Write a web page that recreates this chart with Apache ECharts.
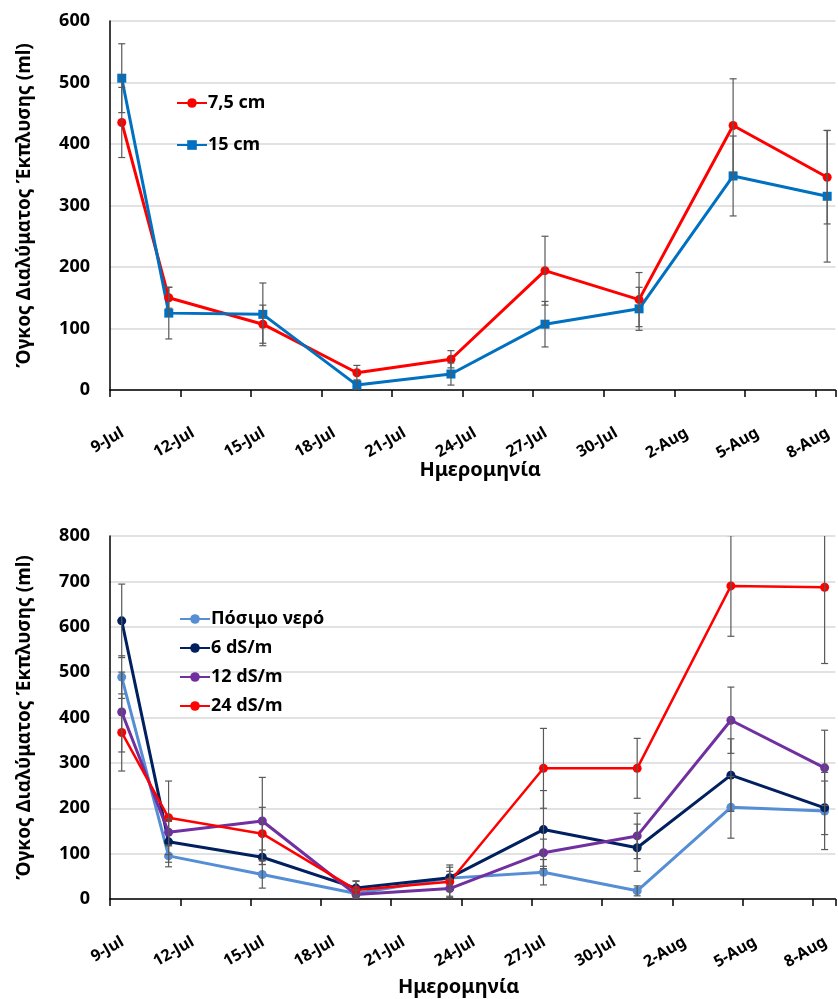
<!DOCTYPE html>
<html>
<head>
<meta charset="utf-8">
<script src="https://cdn.jsdelivr.net/npm/echarts@6/dist/echarts.min.js"></script>
<style>html,body{margin:0;padding:0;background:#fff}#c{width:838px;height:999px}</style>
</head>
<body>
<div id="c"></div>
<script>
// ---- data ----
const baseDate = '2019-07-09';
const dates = ['2019-07-09','2019-07-11','2019-07-15','2019-07-19','2019-07-23','2019-07-27','2019-07-31','2019-08-04','2019-08-08'];
const months = ['Jan','Feb','Mar','Apr','May','Jun','Jul','Aug','Sep','Oct','Nov','Dec'];

// top chart (depth)
const topNames = ['7,5 cm', '15 cm'];
const depth75 = [435, 150, 107, 28, 50, 194, 147, 430, 346];
const depth75Err = [57, 17, 31, 12, 14, 56, 44, 76, 76];
const depth15 = [507, 125, 123, 8, 26, 107, 132, 348, 315];
const depth15Err = [56, 42, 51, 8, 18, 37, 35, 65, 107];

// bottom chart (salinity)
const botNames = ['Πόσιμο νερό', '6 dS/m', '12 dS/m', '24 dS/m'];
const water = [489, 95, 54, 12, 46, 59, 18, 202, 194];
const waterErr = [47, 24, 30, 8, 15, 28, 11, 68, 85];
const ds6 = [613, 126, 92, 24, 47, 153, 113, 273, 201];
const ds6Err = [81, 45, 16, 15, 28, 86, 52, 80, 59];
const ds12 = [412, 147, 172, 10, 23, 102, 139, 394, 289];
const ds12Err = [88, 30, 96, 10, 20, 30, 50, 73, 83];
const ds24 = [367, 179, 144, 20, 38, 288, 288, 690, 687];
const ds24Err = [85, 81, 58, 20, 32, 88, 66, 111, 168];

const yTitle = 'Όγκος Διαλύματος Έκπλυσης (ml)';
const xTitle = 'Ημερομηνία';

// ---- helpers ----
const DAY = 86400000;
const base = Date.parse(baseDate + 'T00:00:00Z');
// Excel date axis places each daily point at the middle of its day
const xs = dates.map(d => (Date.parse(d + 'T12:00:00Z') - base) / DAY);
function dayLabel(v) {
  if (Math.abs(v % 3) > 1e-6) return '';
  const d = new Date(base + v * DAY);
  return '{t|' + d.getUTCDate() + '-' + months[d.getUTCMonth()] + '}';
}
const FONT = 'Noto Sans';

function lineSeries(name, vals, color, symbol, gi, width) {
  return {
    name, type: 'line', xAxisIndex: gi, yAxisIndex: gi,
    data: xs.map((x, i) => [x, vals[i]]),
    symbol, symbolSize: 9,
    lineStyle: { color, width: width || 3 },
    itemStyle: { color },
    z: 2
  };
}
function errSeries(vals, errs, gi) {
  return {
    type: 'custom', xAxisIndex: gi, yAxisIndex: gi, clip: true, z: 3,
    silent: true,
    data: xs.map((x, i) => [x, vals[i], errs[i]]),
    encode: { x: 0, y: 1 },
    renderItem: function (params, api) {
      const x = api.value(0), y = api.value(1), e = api.value(2);
      const t = api.coord([x, y + e]), b = api.coord([x, y - e]);
      const w = 3.5;
      const st = { stroke: '#595959', lineWidth: 1.2 };
      return { type: 'group', children: [
        { type: 'line', shape: { x1: t[0], y1: t[1], x2: b[0], y2: b[1] }, style: st },
        { type: 'line', shape: { x1: t[0] - w, y1: t[1], x2: t[0] + w, y2: t[1] }, style: st },
        { type: 'line', shape: { x1: b[0] - w, y1: b[1], x2: b[0] + w, y2: b[1] }, style: st }
      ]};
    }
  };
}
function xAxis(gi, max, nameGap, namePad) {
  return {
    type: 'value', gridIndex: gi, min: 0, max, interval: 3,
    name: xTitle, nameLocation: 'middle', nameGap, nameMoveOverlap: false,
    nameTextStyle: { fontFamily: FONT, fontWeight: 'bold', fontSize: 20, color: '#000', padding: namePad },
    axisLine: { show: true, onZero: false, lineStyle: { color: '#000', width: 1.5 } },
    axisTick: { show: true, length: 7, lineStyle: { color: '#000', width: 1.5 } },
    splitLine: { show: false },
    axisLabel: {
      formatter: dayLabel, rotate: 30, margin: 20, align: 'right', verticalAlign: 'top',
      showMaxLabel: true, hideOverlap: false,
      rich: { t: { fontFamily: FONT, fontWeight: 'bold', fontSize: 16, color: '#000', lineHeight: 50 } },
      fontFamily: FONT, fontWeight: 'bold', fontSize: 16, color: '#000'
    }
  };
}
function yAxis(gi, max) {
  return {
    type: 'value', gridIndex: gi, min: 0, max, interval: 100,
    name: yTitle, nameLocation: 'middle', nameGap: 76, nameRotate: 90,
    nameTextStyle: { fontFamily: FONT, fontWeight: 'bold', fontSize: 19, color: '#000' },
    axisLine: { show: true, lineStyle: { color: '#000', width: 1.5 } },
    axisTick: { show: false },
    splitLine: { show: true, lineStyle: { color: '#d9d9d9', width: 1.5 } },
    axisLabel: { margin: 20, fontFamily: FONT, fontWeight: 'bold', fontSize: 18, color: '#000' }
  };
}
function legend(names, left, top, gap) {
  return {
    data: names, orient: 'vertical', left, top, itemGap: gap,
    itemWidth: 30, itemHeight: 12,
    textStyle: { fontFamily: FONT, fontWeight: 'bold', fontSize: 18, color: '#000', lineHeight: 20, padding: [0,0,0,-4] },
    selectedMode: false
  };
}

const chart = echarts.init(document.getElementById('c'), null, { renderer: 'canvas' });
chart.setOption({
  animation: false,
  backgroundColor: '#fff',
  grid: [
    { left: 110, top: 21, width: 728, height: 369 },
    { left: 110, top: 536, width: 726, height: 363 }
  ],
  xAxis: [xAxis(0, 30.85, 70, [0, 0, 0, 15]), xAxis(1, 30.96, 78, [0, 28, 0, 0])],
  yAxis: [yAxis(0, 600), yAxis(1, 800)],
  legend: [legend(topNames, 171, 88, 22), legend(botNames, 174, 604, 9)],
  series: [
    lineSeries(topNames[0], depth75, '#FF0000', 'circle', 0),
    lineSeries(topNames[1], depth15, '#0070C0', 'rect', 0),
    errSeries(depth75, depth75Err, 0),
    errSeries(depth15, depth15Err, 0),
    lineSeries(botNames[0], water, '#558ED5', 'circle', 1),
    lineSeries(botNames[1], ds6, '#002060', 'circle', 1),
    lineSeries(botNames[2], ds12, '#7030A0', 'circle', 1),
    lineSeries(botNames[3], ds24, '#FF0000', 'circle', 1, 2.5),
    errSeries(water, waterErr, 1),
    errSeries(ds6, ds6Err, 1),
    errSeries(ds12, ds12Err, 1),
    errSeries(ds24, ds24Err, 1)
  ]
});
</script>
</body>
</html>
